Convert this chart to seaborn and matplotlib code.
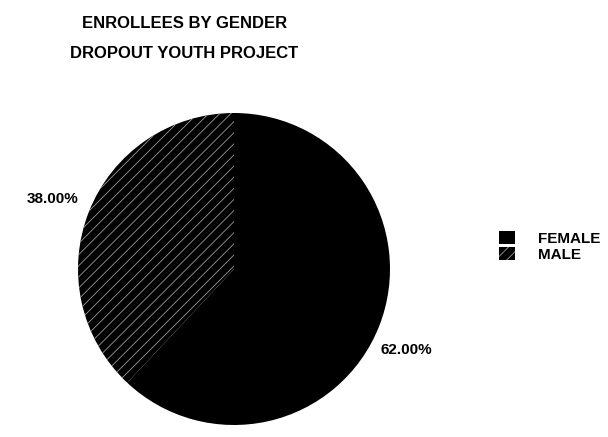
import matplotlib
matplotlib.use("Agg")
import matplotlib.pyplot as plt
import seaborn as sns

title = "ENROLLEES BY GENDER\nDROPOUT YOUTH PROJECT"
genders = ["FEMALE", "MALE"]
shares = [62.0, 38.0]

sns.set_theme(style="white")
plt.rcParams["font.family"] = ["Liberation Sans", "DejaVu Sans"]
plt.rcParams["text.color"] = "black"
plt.rcParams["hatch.linewidth"] = 0.6

fig = plt.figure(figsize=(6.08, 4.37), dpi=100)
ax = fig.add_axes([78 / 608, 12 / 437, 312 / 608, 312 / 437])

# male drawn first so it starts at 12 o'clock and runs counterclockwise
order = [1, 0]
wedges, texts = ax.pie(
    [shares[i] for i in order],
    labels=["%.2f%%" % shares[i] for i in order],
    colors=["black", "black"],
    startangle=90,
    counterclock=True,
    labeldistance=1.1,
    textprops=dict(fontsize=11, fontweight="bold", color="black"),
    wedgeprops=dict(linewidth=0, edgecolor="black"),
)
wedges[0].set_hatch("///")
wedges[0].set_edgecolor("#9a9a9a")
wedges[0].set_linewidth(0)
texts[0].set_position((-1.0, 0.45))
texts[1].set_position((0.94, -0.52))

ax.set_xlim(-1, 1)
ax.set_ylim(-1, 1)
ax.set_aspect("equal")

fig.text(0.303, 0.963, title, ha="center", va="top", fontsize=12,
         fontweight="bold", color="black", linespacing=2.25)

leg = fig.legend([wedges[1], wedges[0]], genders, loc="upper left",
                 bbox_to_anchor=(485 / 608, 1 - 217 / 437), frameon=False,
                 prop=dict(size=11, weight="bold"), handlelength=1.05,
                 handleheight=1.0, handletextpad=1.5, labelspacing=0.05)

fig.savefig("out.png", dpi=100)
